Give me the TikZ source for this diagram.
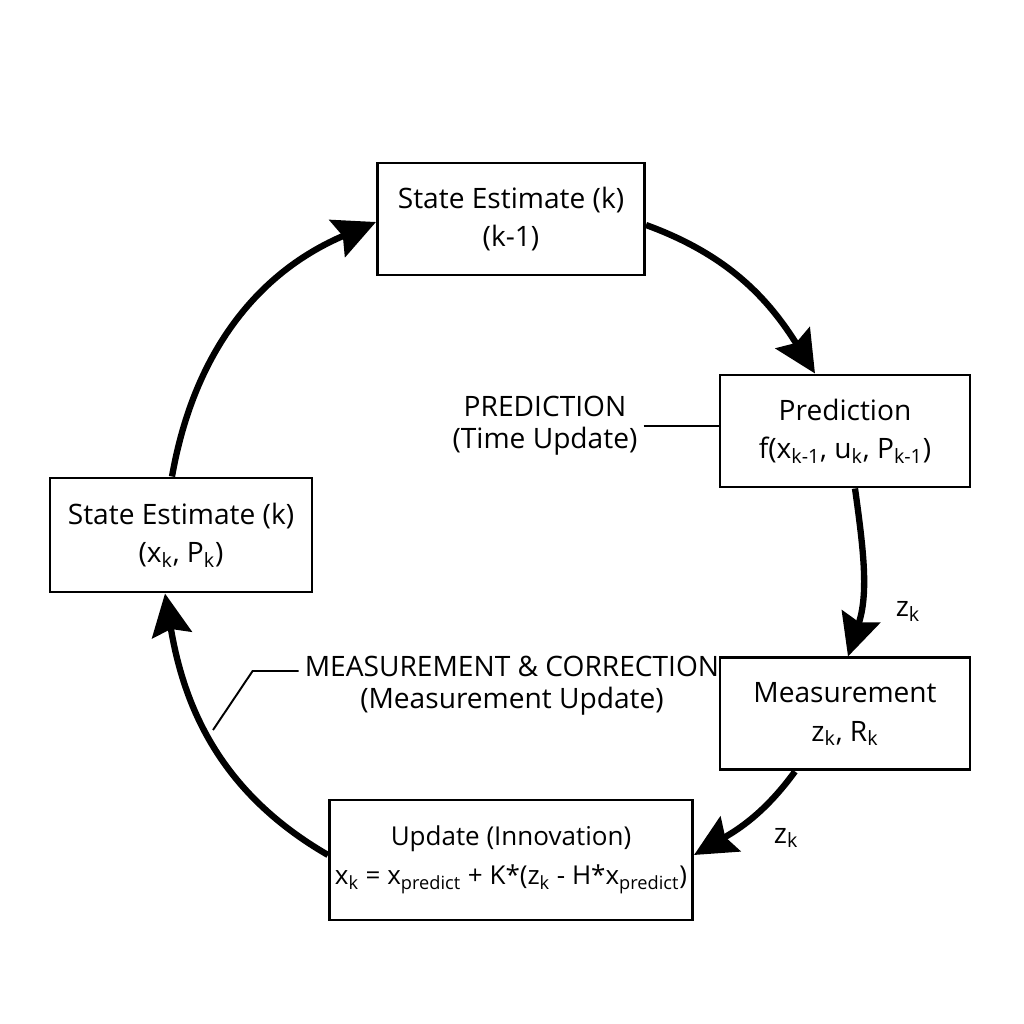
\documentclass[tikz,border=0pt]{standalone}
\usepackage{fontspec}
\setmainfont{Open Sans}
\usetikzlibrary{arrows.meta,positioning}
\begin{document}
\begin{tikzpicture}[font=\fontsize{16}{22}\selectfont,
box/.style={draw,line width=1.7pt,align=center,minimum height=2.24cm,inner sep=2pt},
arr/.style={-{Stealth[length=8.4mm,width=8mm,inset=1.2mm]},line width=3.6pt},
lead/.style={line width=1.1pt},
lbl/.style={align=center,font=\fontsize{16}{18}\selectfont}]
\useasboundingbox (0,0) rectangle (20.48,20.48);
\node[box,minimum width=5.34cm] (st) at (10.22,16.10) {State Estimate (k)\\(k-1)};
\node[box,minimum width=5cm] (pred) at (16.90,11.86) {Prediction\\f(x\textsubscript{k-1}, u\textsubscript{k}, P\textsubscript{k-1})};
\node[box,minimum width=5cm,below=3.36cm of pred] (meas) {Measurement\\z\textsubscript{k}, R\textsubscript{k}};
\node[box,minimum width=7.26cm,minimum height=2.4cm,inner sep=1pt,font=\fontsize{14.8}{22}\selectfont] (upd) at (10.22,3.28) {Update (Innovation)\\x\textsubscript{k} = x\textsubscript{predict} + K*(z\textsubscript{k} - H*x\textsubscript{predict})};
\node[box,minimum width=5.24cm,minimum height=2.28cm] (se) at (3.62,9.78) {State Estimate (k)\\(x\textsubscript{k}, P\textsubscript{k})};
\node[lbl] (predlbl) at (10.90,11.96) {PREDICTION\\(Time Update)};
\node[lbl] (measlbl) at (10.24,6.76) {MEASUREMENT \& CORRECTION\\(Measurement Update)};
\coordinate (mc) at (4.26,5.88);
% cycle
\draw[arr] ([yshift=-0.12cm]st.east) to[out=-20,in=122] ([xshift=-0.6cm]pred.north);
\draw[arr] ([xshift=0.2cm]pred.south) to[out=-82,in=72] node[pos=0.74,right=0.55cm]{z\textsubscript{k}} ([xshift=0.06cm]meas.north);
\draw[arr] ([xshift=-1cm]meas.south) to[out=-126,in=30] node[pos=0.5,below right=0cm and 0.3cm]{z\textsubscript{k}} ([yshift=0.1cm]upd.east);
\draw[arr] ([yshift=0.1cm]upd.west) to[out=150,in=279.5] ([xshift=-0.32cm]se.south);
\draw[arr] ([xshift=-0.18cm]se.north) to[out=80,in=203] ([yshift=-0.06cm]st.west);
% pointers
\draw[lead] (predlbl.east) -- (predlbl.east -| pred.west);
\draw[lead] ([yshift=0.3cm]measlbl.west) -- ++(-0.92,0) -- (mc);
\end{tikzpicture}
\end{document}
